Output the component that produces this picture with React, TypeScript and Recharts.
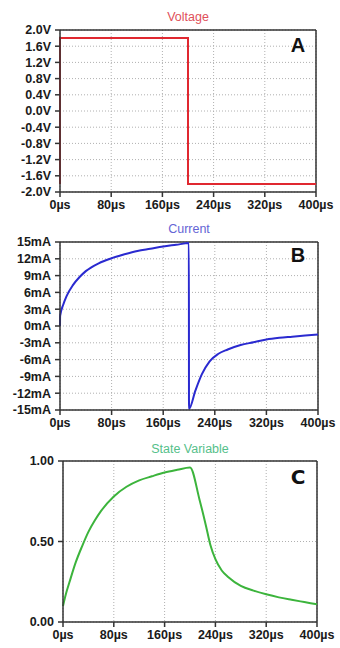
import { LineChart, Line, XAxis, YAxis, CartesianGrid, ReferenceLine } from 'recharts'

const timeTicks = [0, 80, 160, 240, 320, 400]

const voltageTime = [0, 0, 200, 200, 400]
const voltageValues = [-1.8, 1.8, 1.8, -1.8, -1.8]
const voltageTicks = [-2.0, -1.6, -1.2, -0.8, -0.4, 0.0, 0.4, 0.8, 1.2, 1.6, 2.0]

const currentTime = [0, 0.2, 5, 10, 20, 30, 40, 60, 80, 100, 120, 140, 160, 180, 199.8, 200, 210, 220, 232, 245, 260, 280, 300, 320, 340, 360, 380, 400]
const currentValues = [0, 1.8, 3.8, 5.3, 7.3, 8.7, 9.8, 11.2, 12.1, 12.8, 13.4, 13.8, 14.2, 14.5, 14.8, -14.8, -11.5, -8.6, -6.3, -5.0, -4.2, -3.4, -2.9, -2.4, -2.1, -1.9, -1.7, -1.5]
const currentTicks = [-15, -12, -9, -6, -3, 0, 3, 6, 9, 12, 15]

const stateTime = [0, 5, 10, 20, 30, 40, 50, 60, 80, 100, 120, 140, 160, 180, 200, 215, 225, 232, 240, 250, 260, 280, 300, 320, 340, 360, 380, 400]
const stateValues = [0.1, 0.18, 0.245, 0.37, 0.47, 0.56, 0.63, 0.69, 0.78, 0.84, 0.88, 0.905, 0.928, 0.945, 0.96, 0.76, 0.6, 0.48, 0.39, 0.32, 0.28, 0.225, 0.195, 0.172, 0.153, 0.138, 0.124, 0.11]
const stateTicks = [0, 0.5, 1.0]

const FONT = '"Liberation Sans", Arial, sans-serif'
const tickStyle = { fontSize: 12.5, fontWeight: 700, fill: '#1a1a1a', fontFamily: FONT }
const axisLine = { stroke: '#333', strokeWidth: 1.5 }

const toRows = (ts: number[], vs: number[]) => ts.map((t, i) => ({ t, v: vs[i] }))

interface PanelProps {
  top: number
  height: number
  margin: { top: number; right: number; bottom: number; left: number }
  yWidth: number
  xHeight: number
  rows: { t: number; v: number }[]
  yTicks: number[]
  yFormat: (v: number) => string
  color: string
  curve: 'linear' | 'monotone'
  title: string
  titleColor: string
  titleY: number
  letter: string
  letterY: number
  letterFont?: string
}

function Panel(p: PanelProps) {
  const plotLeft = p.margin.left + p.yWidth
  const plotRight = 340 - p.margin.right
  const center = (plotLeft + plotRight) / 2
  const yMin = p.yTicks[0]
  const yMax = p.yTicks[p.yTicks.length - 1]
  return (
    <>
      <div style={{ position: 'absolute', left: 0, top: p.top, width: 340, height: p.height }}>
        <LineChart width={340} height={p.height} data={p.rows} margin={p.margin}>
          <CartesianGrid stroke="#b0b0b0" strokeDasharray="1 2" />
          <XAxis
            dataKey="t"
            type="number"
            domain={[0, 400]}
            ticks={timeTicks}
            height={p.xHeight}
            tickFormatter={(t: number) => `${t}µs`}
            tick={tickStyle}
            axisLine={axisLine}
            tickLine={{ stroke: '#333', strokeWidth: 1.5 }}
            tickSize={5}
            tickMargin={3}
            interval={0}
          />
          <YAxis
            type="number"
            domain={[yMin, yMax]}
            ticks={p.yTicks}
            width={p.yWidth}
            tickFormatter={p.yFormat}
            tick={tickStyle}
            axisLine={axisLine}
            tickLine={{ stroke: '#333', strokeWidth: 1.5 }}
            tickSize={5}
            tickMargin={4}
            interval={0}
          />
          <ReferenceLine y={yMax} stroke="#333" strokeWidth={1.5} />
          <ReferenceLine x={400} stroke="#333" strokeWidth={1.5} />
          <Line type={p.curve} dataKey="v" stroke={p.color} strokeWidth={2} dot={false} isAnimationActive={false} />
        </LineChart>
      </div>
      <div
        style={{
          position: 'absolute',
          left: center - 80,
          width: 160,
          top: p.titleY - 8,
          textAlign: 'center',
          fontFamily: FONT,
          fontSize: 12.5,
          lineHeight: '16px',
          color: p.titleColor,
        }}
      >
        {p.title}
      </div>
      <div
        style={{
          position: 'absolute',
          left: 287,
          width: 22,
          top: p.letterY - 12,
          textAlign: 'center',
          fontFamily: p.letterFont ?? FONT,
          fontWeight: 700,
          fontSize: 20,
          lineHeight: '24px',
          color: '#111',
        }}
      >
        {p.letter}
      </div>
    </>
  )
}

export default function App() {
  return (
    <div style={{ position: 'absolute', left: 0, top: 0, width: 340, height: 648, background: '#fff', overflow: 'hidden' }}>
      <Panel
        top={0}
        height={225}
        margin={{ top: 30, right: 24, bottom: 0, left: 0 }}
        yWidth={60}
        xHeight={33}
        rows={toRows(voltageTime, voltageValues)}
        yTicks={voltageTicks}
        yFormat={(v: number) => `${v.toFixed(1)}V`}
        color="#e02830"
        curve="linear"
        title="Voltage"
        titleColor="#e0505a"
        titleY={17}
        letter="A"
        letterY={45}
      />
      <Panel
        top={215}
        height={230}
        margin={{ top: 27, right: 22, bottom: 0, left: 0 }}
        yWidth={60}
        xHeight={35}
        rows={toRows(currentTime, currentValues)}
        yTicks={currentTicks}
        yFormat={(v: number) => `${v}mA`}
        color="#2a2ad0"
        curve="monotone"
        title="Current"
        titleColor="#6565d5"
        titleY={229}
        letter="B"
        letterY={255}
      />
      <Panel
        top={430}
        height={218}
        margin={{ top: 31, right: 23, bottom: 0, left: 0 }}
        yWidth={63}
        xHeight={26}
        rows={toRows(stateTime, stateValues)}
        yTicks={stateTicks}
        yFormat={(v: number) => v.toFixed(2)}
        color="#3cb43c"
        curve="monotone"
        title="State Variable"
        titleColor="#55c08a"
        titleY={449}
        letter="C"
        letterY={477}
        letterFont='"DejaVu Sans", sans-serif'
      />
    </div>
  )
}
